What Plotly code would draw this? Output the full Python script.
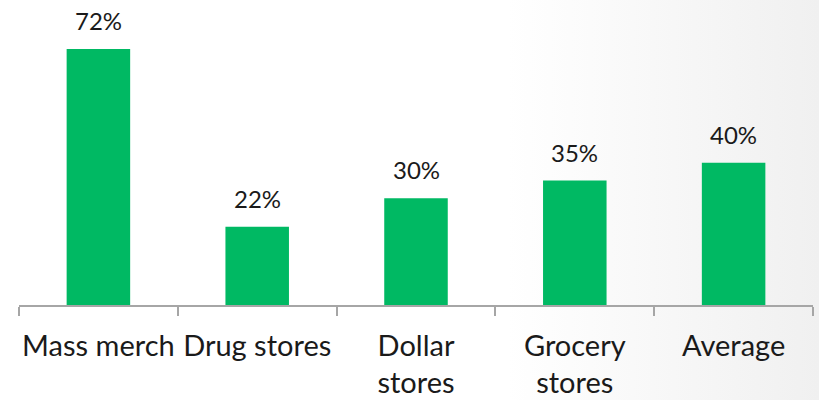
import plotly.graph_objects as go

# Share of shoppers by channel
categories = ["Mass merch", "Drug stores", "Dollar<br>stores", "Grocery<br>stores", "Average"]
values = [72, 22, 30, 35, 40]
value_labels = [f"{v}%" for v in values]

bar_color = "#00B963"
axis_color = "#A6A6A6"
font_family = "Lato, 'Open Sans', sans-serif"

fig = go.Figure()
fig.add_trace(go.Bar(
    x=categories,
    y=values,
    marker=dict(color=bar_color, line=dict(width=0)),
    hoverinfo="skip",
))

for cat, v, lab in zip(categories, values, value_labels):
    fig.add_annotation(
        x=cat, y=v, text=lab, showarrow=False,
        yanchor="bottom", yshift=12,
        font=dict(family=font_family, size=24, color="#1a1a1a"),
    )

# Soft grey wash toward the right edge
gradient_svg = (
    "data:image/svg+xml;utf8,"
    "<svg xmlns='http://www.w3.org/2000/svg' width='819' height='400' preserveAspectRatio='none'>"
    "<defs><linearGradient id='g' x1='0' y1='0' x2='1' y2='0'>"
    "<stop offset='0.62' stop-color='%23ffffff'/>"
    "<stop offset='1' stop-color='%23f0f0f0'/>"
    "</linearGradient></defs>"
    "<rect width='819' height='400' fill='url(%23g)'/></svg>"
)
fig.add_layout_image(
    source=gradient_svg, xref="paper", yref="paper",
    x=-19 / 794, y=1, sizex=819 / 794, sizey=400 / 305,
    xanchor="left", yanchor="top", sizing="stretch", layer="below",
)

fig.update_layout(
    width=819, height=400,
    margin=dict(l=19, r=6, t=0, b=95),
    paper_bgcolor="rgba(0,0,0,0)",
    plot_bgcolor="rgba(0,0,0,0)",
    bargap=0.6,
    showlegend=False,
    font=dict(family=font_family, color="#1a1a1a"),
    xaxis=dict(
        showline=True, linecolor=axis_color, linewidth=1.5,
        ticks="outside", tickson="boundaries", ticklen=9,
        tickcolor=axis_color, tickwidth=1.5,
        tickangle=0, automargin=False,
        ticklabelstandoff=14,
        tickfont=dict(family=font_family, size=29, color="#1a1a1a"),
        showgrid=False, zeroline=False,
    ),
    yaxis=dict(range=[0, 85.8], visible=False, showgrid=False, zeroline=False),
)

fig.write_html("out.html")
